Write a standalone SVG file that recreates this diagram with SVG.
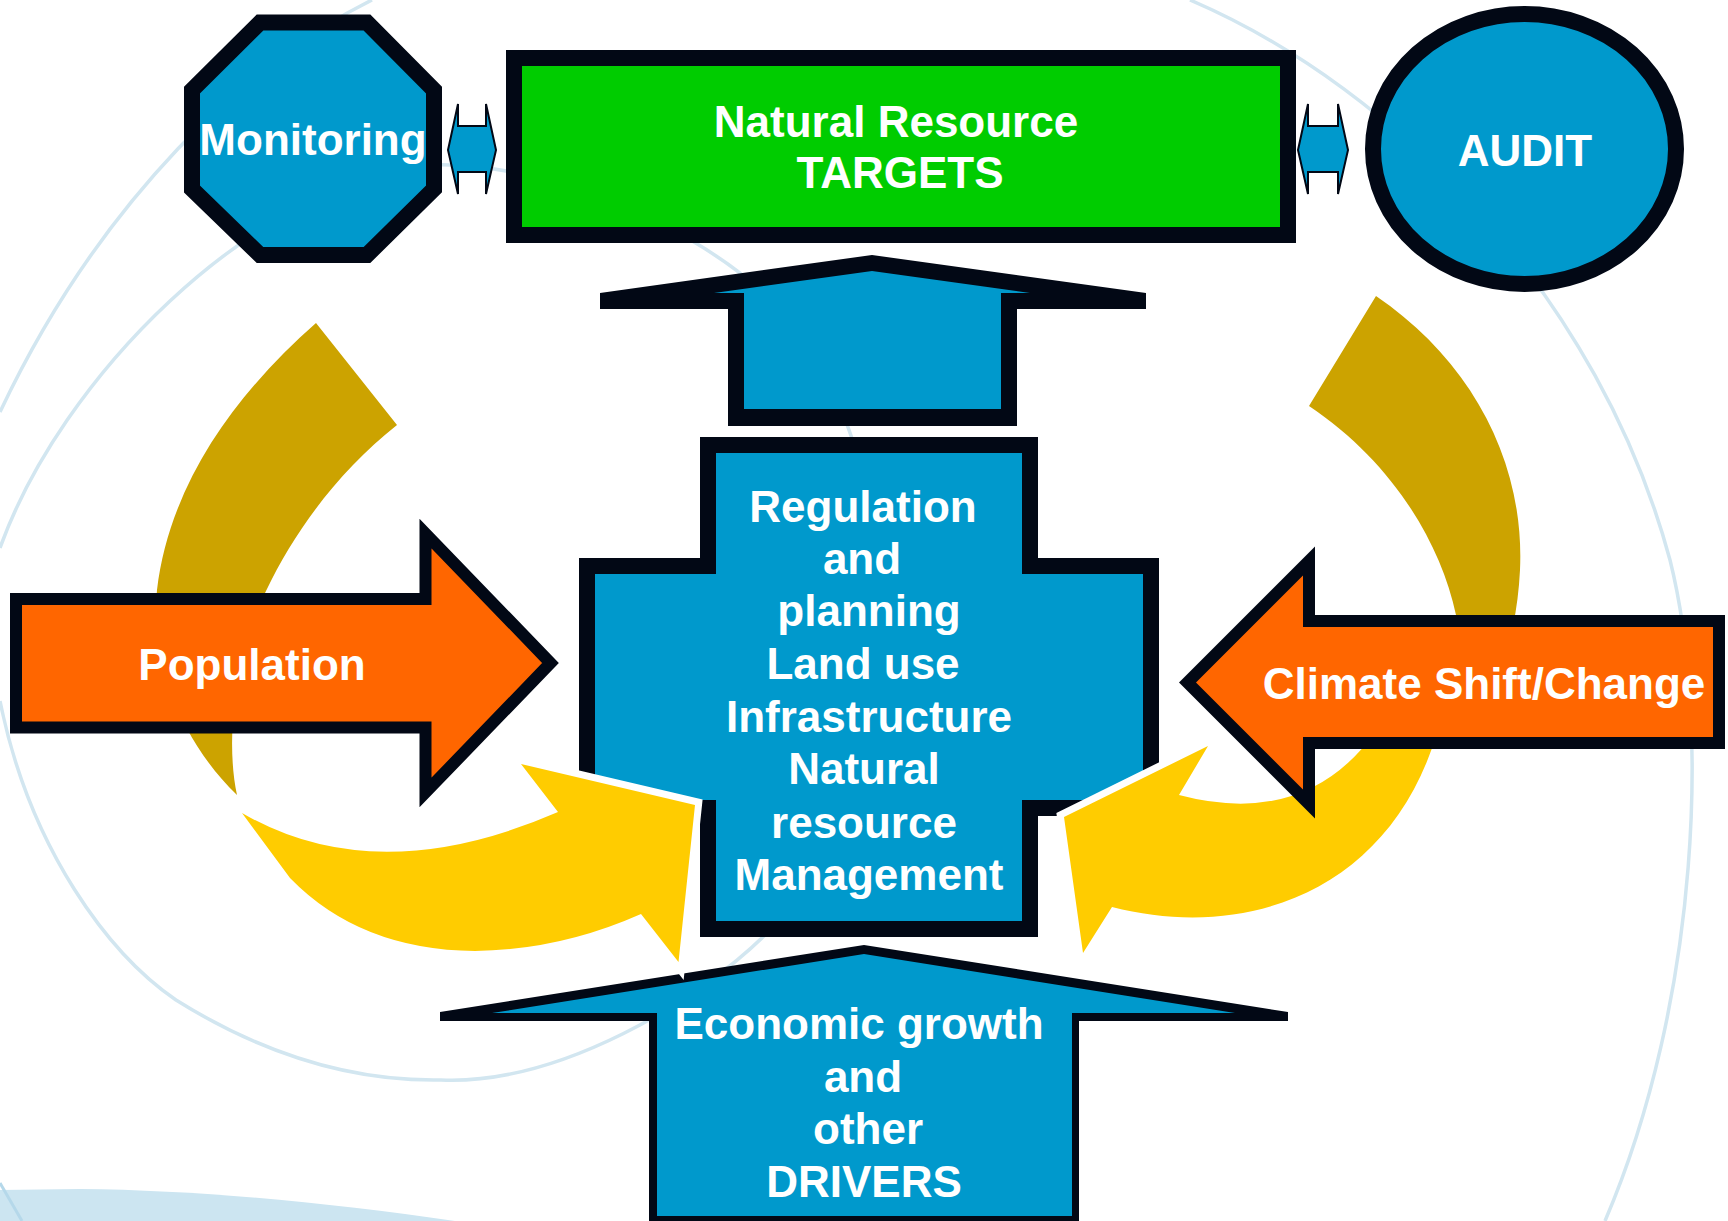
<svg xmlns="http://www.w3.org/2000/svg" xmlns:xlink="http://www.w3.org/1999/xlink" width="1728" height="1221" viewBox="0 0 1728 1221">
<style>
.t{font-family:"Liberation Sans",Arial,Helvetica,sans-serif;font-weight:bold;font-size:44px;fill:#ffffff;text-anchor:middle}
.bg{fill:none;stroke:#D2E6F0;stroke-width:3.5}
.blue{fill:#0099CC}
.ink{fill:#020815}
.edge{stroke:#020815;stroke-linejoin:miter}
.gold{fill:#CCA300}
.yel{fill:#FFCC00}
.halo{fill:#ffffff;stroke:#ffffff;stroke-width:14;stroke-linejoin:miter;stroke-miterlimit:10}
.dbl{fill:#0099CC;stroke:#020815;stroke-width:2;stroke-linejoin:miter}
</style>
<defs>
<path id="yl" d="M242,813 Q376,891 558,812 L521,764 L695,805 L678.5,962 L641,914 Q560,950 475,951 Q360,950 290,878 Z"/>
<path id="yr" d="M1179,795 L1208,746 L1064,817 L1083,953 L1112,907 C1260,945 1410,880 1445,700 L1400,690 Q1330,835 1179,795 Z"/>
</defs>
<rect x="0" y="0" width="1728" height="1221" fill="#ffffff"/>
<g id="background">
<path class="bg" d="M372,0 C250,60 100,200 0,412"/>
<path class="bg" d="M0,548 C60,380 250,185 430,165 C540,160 690,225 760,290 C830,355 880,470 875,600 C870,760 830,870 767,933 C700,1000 560,1085 441,1080 C330,1082 240,1040 176,1000 C110,955 30,850 0,701"/>
<path class="bg" d="M1190,0 C1400,90 1600,300 1670,560 C1710,720 1700,1000 1605,1221"/>
<path d="M0,1190 L80,1189 C200,1190 330,1203 455,1221 L0,1221 Z" fill="#CCE5F1"/>
<path d="M0,1183 L22,1221" fill="none" stroke="#B5D8EA" stroke-width="3"/>
</g>
<g id="regulation">
<path class="blue edge" stroke-width="16" d="M708,445 H1030 V566 H1151 V808 H1030 V929 H708 V808 H587 V566 H708 Z"/>
<text class="t" x="863" y="522">Regulation</text>
<text class="t" x="862" y="574">and</text>
<text class="t" x="869" y="626">planning</text>
<text class="t" x="863" y="679">Land use</text>
<text class="t" x="869" y="732">Infrastructure</text>
<text class="t" x="864" y="784">Natural</text>
<text class="t" x="864" y="838">resource</text>
<text class="t" x="869" y="890">Management</text>
</g>
<g id="drivers">
<path class="ink" d="M440,1012 L864,945 L1288,1012 L1288,1021 L1079,1021 L1079,1221 L649,1221 L649,1021 L440,1021 Z"/>
<path class="blue" d="M492,1013 L864,954 L1235,1013 L1072,1013 L1072,1216 L657,1216 L657,1013 Z"/>
<text class="t" x="859" y="1039">Economic growth</text>
<text class="t" x="863" y="1092">and</text>
<text class="t" x="868" y="1144">other</text>
<text class="t" x="864" y="1197">DRIVERS</text>
</g>
<g id="connectors">
<path class="gold" d="M316,323 C240,390 170,480 157,590 C150,660 180,740 237,795 C225,740 235,650 266,591 C295,530 340,470 397,425 Z"/>
<path class="gold" d="M1376,296 C1470,360 1525,460 1520,570 C1516,650 1490,710 1450,740 C1455,680 1460,640 1456,615 C1440,540 1390,460 1309,406 Z"/>
<use xlink:href="#yl" class="halo"/>
<use xlink:href="#yl" class="yel"/>
<use xlink:href="#yr" class="halo"/>
<use xlink:href="#yr" class="yel"/>
<path class="ink" d="M600,293 L872,255 L1146,293 L1146,309 L1017,309 L1017,426 L728,426 L728,309 L600,309 Z"/>
<path class="blue" d="M714,293 L872,271 L1030,293 L1001,293 L1001,409 L744,409 L744,293 Z"/>
<path class="dbl" d="M448,150 L458,104 L458,126 L486,126 L486,104 L496,150 L486,194 L486,172 L458,172 L458,194 Z"/>
<path class="dbl" d="M1298,150 L1308,104 L1308,126 L1338,126 L1338,104 L1348,150 L1338,194 L1338,172 L1308,172 L1308,194 Z"/>
</g>
<g id="population">
<path fill="#FF6600" class="edge" stroke-width="12" d="M16,599 H425.5 V533.5 L550.5,663 L425.5,792.5 V727.5 H16 Z"/>
<text class="t" x="252" y="680">Population</text>
</g>
<g id="climate">
<path fill="#FF6600" class="edge" stroke-width="12" d="M1719,621 V743 H1309 V804 L1187.5,682.5 L1309,561 V621 Z"/>
<text class="t" x="1484" y="699">Climate Shift/Change</text>
</g>
<g id="targets">
<rect x="514" y="58" width="774" height="177" fill="#00CC00" class="edge" stroke-width="16"/>
<text class="t" x="896" y="137">Natural Resource</text>
<text class="t" x="900" y="188">TARGETS</text>
</g>
<g id="monitoring">
<polygon class="blue edge" stroke-width="16" points="260,22.5 367,22.5 434,90 434,189 367,255 260,255 192,189 192,90"/>
<text class="t" x="313" y="155">Monitoring</text>
</g>
<g id="audit">
<ellipse cx="1524.5" cy="149" rx="151.5" ry="135" class="blue edge" stroke-width="16"/>
<text class="t" x="1525" y="166">AUDIT</text>
</g>
</svg>
